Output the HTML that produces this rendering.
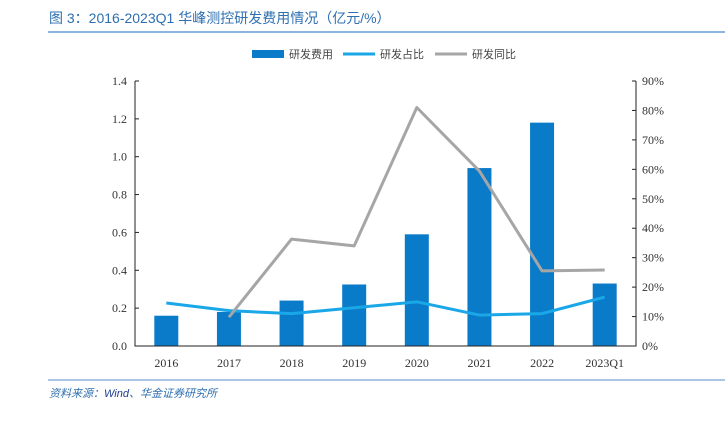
<!DOCTYPE html>
<html><head><meta charset="utf-8"><style>
body{margin:0;background:#fff;width:725px;height:416px;overflow:hidden;font-family:"Liberation Sans","Noto Sans CJK SC",sans-serif}
</style></head><body>
<svg width="725" height="416" xmlns="http://www.w3.org/2000/svg">
<text x="49" y="23" font-size="14" fill="#2e6fb0" font-family="Liberation Sans, Noto Sans CJK SC, sans-serif">图 3：2016-2023Q1 华峰测控研发费用情况（亿元/%）</text>
<line x1="48" y1="32" x2="725" y2="32" stroke="#8db4dc" stroke-width="2"/>
<g id="legend" font-size="11" fill="#444" font-family="Liberation Sans, Noto Sans CJK SC, sans-serif">
<rect x="252" y="50" width="32" height="8" fill="#0a7bc8"/>
<text x="289" y="58">研发费用</text>
<line x1="343" y1="54" x2="375" y2="54" stroke="#1aa7e8" stroke-width="3"/>
<text x="380" y="58">研发占比</text>
<line x1="435" y1="54" x2="467" y2="54" stroke="#a6a6a6" stroke-width="3"/>
<text x="472" y="58">研发同比</text>
</g>
<g id="plot"></g>
<line x1="48" y1="380" x2="725" y2="380" stroke="#8db4dc" stroke-width="1.5"/>
<text x="49" y="397" font-size="11" font-style="italic" fill="#2e6fb0" font-family="Liberation Sans, Noto Sans CJK SC, sans-serif">资料来源：<tspan fill="#1f3f8f">Wind</tspan>、华金证券研究所</text>
</svg>
<script>
const categories=["2016","2017","2018","2019","2020","2021","2022","2023Q1"];
const expense=[0.16,0.18,0.24,0.325,0.59,0.94,1.18,0.33];
const ratio=[14.6,12.0,11.0,13.0,15.0,10.5,11.0,16.6];
const growth=[null,9.8,36.3,34.0,81.0,59.4,25.5,25.8];
const leftTicks=["0.0","0.2","0.4","0.6","0.8","1.0","1.2","1.4"];
const rightTicks=["0%","10%","20%","30%","40%","50%","60%","70%","80%","90%"];
const NS="http://www.w3.org/2000/svg";
const X0=135,X1=636,Y0=346,Y1=81;
const bw=(X1-X0)/categories.length;
const xc=i=>X0+bw*(i+0.5);
const yl=v=>Y0-(v/1.4)*(Y0-Y1);
const yr=v=>Y0-(v/90)*(Y0-Y1);
const g=document.getElementById('plot');
function mk(t,a){const e=document.createElementNS(NS,t);for(const k in a)e.setAttribute(k,a[k]);g.appendChild(e);return e;}
const serif="Liberation Serif, serif";
expense.forEach((v,i)=>{
 const r=mk('rect',{x:xc(i)-12,y:yl(v),width:24,height:Y0-yl(v),fill:'#0a7bc8'});
 
 
});
let d='';ratio.forEach((v,i)=>{d+=(i?'L':'M')+xc(i)+' '+yr(v);});
const pr=mk('path',{d:d,fill:'none',stroke:'#1aa7e8','stroke-width':3,'stroke-linejoin':'round'});


d='';let first=true;growth.forEach((v,i)=>{if(v==null)return;d+=(first?'M':'L')+xc(i)+' '+yr(v);first=false;});
const pg=mk('path',{d:d,fill:'none',stroke:'#a6a6a6','stroke-width':3,'stroke-linejoin':'round'});


const ax=mk('path',{d:`M${X0} ${Y1}V${Y0}H${X1}V${Y1}`,fill:'none',stroke:'#222','stroke-width':1});


leftTicks.forEach((t,i)=>{const y=yl(i*0.2);
 mk('line',{x1:X0,x2:X0+4,y1:y,y2:y,stroke:'#222'});
 const tx=mk('text',{x:X0-8,y:y+4,'text-anchor':'end','font-size':12,fill:'#333','font-family':serif});tx.textContent=t;
 
 
});
rightTicks.forEach((t,i)=>{const y=yr(i*10);
 mk('line',{x1:X1-4,x2:X1,y1:y,y2:y,stroke:'#222'});
 const tx=mk('text',{x:X1+6,y:y+4,'font-size':12,fill:'#333','font-family':serif});tx.textContent=t;
 
 
});
categories.forEach((c,i)=>{
 const tx=mk('text',{x:xc(i),y:367,'text-anchor':'middle','font-size':12,fill:'#333','font-family':serif});tx.textContent=c;
 
 
});
</script>
</body></html>
